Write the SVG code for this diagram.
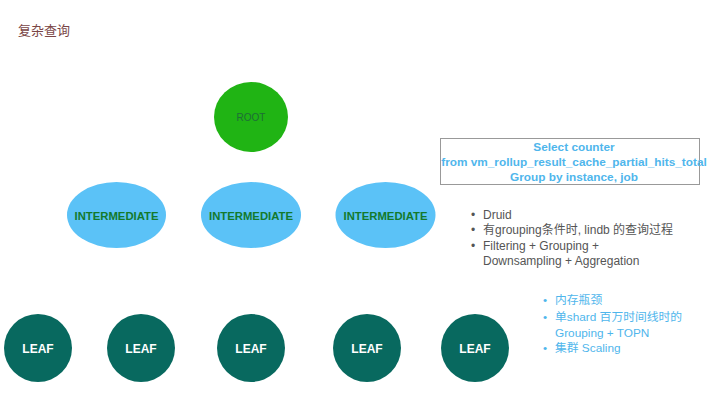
<svg xmlns="http://www.w3.org/2000/svg" width="720" height="405" viewBox="0 0 720 405">
<style>
text{font-family:"Liberation Sans","Noto Sans CJK SC",sans-serif;}
.inter{fill:#5bc2f7;}
.itext{fill:#13792c;font-size:11.3px;font-weight:bold;text-anchor:middle;}
.leaf{fill:#08695f;}
.ltext{fill:#ffffff;font-size:12px;font-weight:bold;text-anchor:middle;}
.gray{fill:#555555;font-size:12px;}
.blue{fill:#4fb6ec;font-size:11.8px;}
.query{fill:#4fb6ec;font-size:11.8px;font-weight:bold;text-anchor:middle;}
</style>
<rect width="720" height="405" fill="#ffffff"/>
<text x="18" y="35" style="fill:#7a4646;font-size:13px;">复杂查询</text>
<g id="connectors"></g>
<g id="root">
<ellipse cx="251" cy="117" rx="37" ry="35" fill="#20b414"/>
<text x="251" y="121" style="fill:#1d6e36;font-size:10px;text-anchor:middle;">ROOT</text>
</g>
<g id="inter1"><ellipse class="inter" cx="116.5" cy="215" rx="49.5" ry="33"/><text class="itext" x="116.5" y="219.5">INTERMEDIATE</text></g>
<g id="inter2"><ellipse class="inter" cx="251" cy="215" rx="50" ry="33"/><text class="itext" x="251" y="219.5">INTERMEDIATE</text></g>
<g id="inter3"><ellipse class="inter" cx="385.5" cy="215" rx="50" ry="33"/><text class="itext" x="385.5" y="219.5">INTERMEDIATE</text></g>
<g id="leaf1"><circle class="leaf" cx="38" cy="348" r="34"/><text class="ltext" x="38" y="352.5">LEAF</text></g>
<g id="leaf2"><circle class="leaf" cx="141" cy="348" r="34"/><text class="ltext" x="141" y="352.5">LEAF</text></g>
<g id="leaf3"><circle class="leaf" cx="251" cy="348" r="34"/><text class="ltext" x="251" y="352.5">LEAF</text></g>
<g id="leaf4"><circle class="leaf" cx="367" cy="348" r="34"/><text class="ltext" x="367" y="352.5">LEAF</text></g>
<g id="leaf5"><circle class="leaf" cx="475" cy="348" r="34"/><text class="ltext" x="475" y="352.5">LEAF</text></g>
<g id="query">
<rect x="440.5" y="138.5" width="259" height="46" fill="#ffffff" stroke="#999999" stroke-width="1"/>
<text class="query" x="574" y="151">Select counter</text>
<text class="query" x="574" y="166">from vm_rollup_result_cache_partial_hits_total</text>
<text class="query" x="574" y="181">Group by instance, job</text>
</g>
<g id="notes">
<text class="gray" x="471" y="219">•</text><text class="gray" x="483" y="219">Druid</text>
<text class="gray" x="471" y="234">•</text><text class="gray" x="483" y="234">有grouping条件时, lindb 的查询过程</text>
<text class="gray" x="471" y="250">•</text><text class="gray" x="483" y="250">Filtering + Grouping +</text>
<text class="gray" x="483" y="265">Downsampling + Aggregation</text>
</g>
<g id="issues">
<text class="blue" x="543" y="304">•</text><text class="blue" x="555" y="304">内存瓶颈</text>
<text class="blue" x="543" y="321">•</text><text class="blue" x="555" y="321">单shard 百万时间线时的</text>
<text class="blue" x="555" y="337">Grouping + TOPN</text>
<text class="blue" x="543" y="352">•</text><text class="blue" x="555" y="352">集群 Scaling</text>
</g>
</svg>
